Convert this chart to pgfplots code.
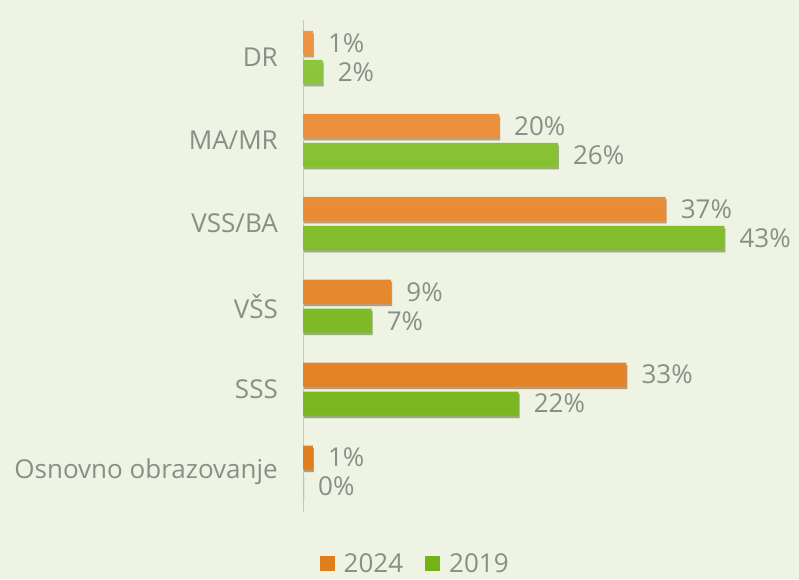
\documentclass[border=0pt]{standalone}
\usepackage{pgfplots}
\pgfplotsset{compat=1.18}
\usepackage{fontspec}
\setmainfont{Open Sans}
\usetikzlibrary{shadows}
\definecolor{bg}{RGB}{238,243,227}
\definecolor{txt}{RGB}{138,143,134}
\definecolor{axl}{RGB}{196,200,190}
\definecolor{orT}{RGB}{238,150,70}
\definecolor{orB}{RGB}{224,126,30}
\definecolor{grT}{RGB}{140,198,58}
\definecolor{grB}{RGB}{116,178,26}
\begin{document}
\begin{tikzpicture}
\fill[bg] (0pt,0pt) rectangle (799pt,579pt);
\path[use as bounding box] (0pt,0pt) rectangle (799pt,579pt);
\begin{axis}[
  at={(303pt,67pt)}, anchor=south west,
  scale only axis, width=490pt, height=492pt,
  xmin=0, xmax=50, ymin=-0.48, ymax=5.45,
  axis x line=none,
  axis y line=left,
  y axis line style={-, draw=axl, line width=0.8pt},
  ytick={0,1,2,3,4,5},
  yticklabels={Osnovno obrazovanje, SSS, VŠS, VSS/BA, MA/MR, DR},
  major tick length=0pt,
  yticklabel style={font=\fontsize{26}{30}\selectfont, text=txt, inner sep=0pt, xshift=-25pt},
  xbar, bar width=24pt,
  nodes near coords={\pgfmathprintnumber{\pgfplotspointmeta}\%},
  nodes near coords style={anchor=west, inner sep=0pt, xshift=15pt, font=\fontsize{26}{30}\selectfont, text=txt},
  /pgf/number format/assume math mode=true,
  legend columns=2,
  legend style={at={(0.229,-0.105)}, anchor=center, draw=none, fill=none,
    font=\fontsize{26}{30}\selectfont, text=txt,
    /tikz/every even column/.append style={column sep=20pt}},
  legend image code/.code={\fill[#1] (0pt,-7.5pt) rectangle (15pt,7.5pt); \path (22pt,0pt);},
  clip=false,
]
\addplot[bar shift=14.5pt, draw=none, top color=orT, bottom color=orB,
  drop shadow={shadow xshift=1pt, shadow yshift=-2.5pt, opacity=0.3, fill=black}, forget plot]
  coordinates {(1,5) (20,4) (37,3) (9,2) (33,1) (1,0)};
\addplot[bar shift=-14.5pt, draw=none, top color=grT, bottom color=grB,
  drop shadow={shadow xshift=1pt, shadow yshift=-2.5pt, opacity=0.3, fill=black}, forget plot]
  coordinates {(2,5) (26,4) (43,3) (7,2) (22,1) (0,0)};
\addlegendimage{fill=orB, draw=none}
\addlegendentry{2024}
\addlegendimage{fill=grB, draw=none}
\addlegendentry{2019}
\end{axis}
\end{tikzpicture}
\end{document}
